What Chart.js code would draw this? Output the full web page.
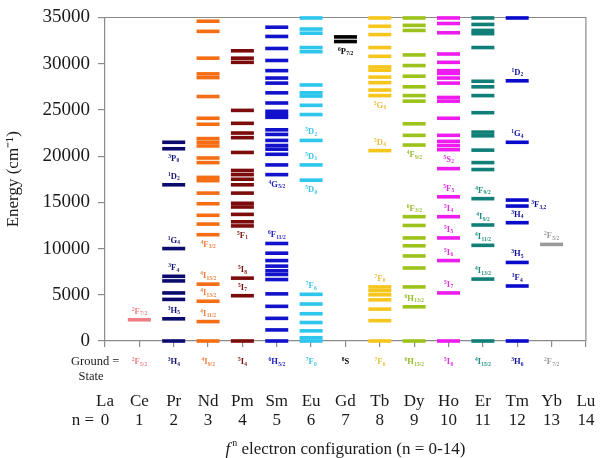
<!DOCTYPE html>
<html>
<head>
<meta charset="utf-8">
<script src="https://cdn.jsdelivr.net/npm/chart.js"></script>
<style>
  body { margin: 0; background: #fff; }
  #wrap { width: 601px; height: 458px; }
</style>
</head>
<body>
<div id="wrap"><canvas id="dieke" width="601" height="458"></canvas></div>
<script>
// element symbols, n = 0..14
const elements = ['La', 'Ce', 'Pr', 'Nd', 'Pm', 'Sm', 'Eu', 'Gd', 'Tb', 'Dy', 'Ho', 'Er', 'Tm', 'Yb', 'Lu'];
const yTicks = [0, 5000, 10000, 15000, 20000, 25000, 30000, 35000];

// energy levels (cm-1)
const ceLevels = [2300];
const prLevels = [0, 2400, 4500, 5200, 6500, 7000, 10000, 16900, 20800, 21500];
const ndLevels = [0, 2100, 4300, 6150, 11500, 12650, 13600, 14850, 16000, 17350, 17700, 19300, 19800,
  21100, 21500, 21900, 23450, 24100, 26450, 28500, 28900, 30600, 33500, 34600];
const pmLevels = [0, 4900, 6800, 12450, 12900, 13700, 14500, 14900, 16000, 16900, 17500, 18000, 18450,
  20400, 22000, 22500, 23550, 24950, 30150, 30600, 31400];
const smLevels = [0, 1200, 2450, 3750, 5100, 6650, 7200, 7600, 8100, 8700, 9500, 10550, 18000, 19050,
  20200, 20750, 21150, 21700, 22350, 22850, 24200, 24500, 24850, 25750, 26850, 27900, 28450, 29250,
  30350, 31650, 32950, 33950];
const euLevels = [0, 350, 1100, 2000, 2950, 4000, 5050, 17400, 19050, 21700, 24500, 25500, 26500, 26850,
  27700, 31300, 31750, 33300, 33750, 34950];
const gdLevels = [32400, 32900];
const tbLevels = [0, 2200, 3450, 4450, 5000, 5450, 5850, 20600, 26550, 27150, 27950, 28550, 29300, 29650,
  30800, 31750, 33150, 34050, 34950];
const dyLevels = [0, 3700, 5850, 7900, 9200, 10300, 11150, 12500, 13450, 21200, 22250, 23500, 25950,
  26550, 27500, 28650, 29800, 30950, 33600, 34150, 34950];
const hoLevels = [0, 5200, 8700, 11150, 13450, 15600, 18650, 20700, 21150, 21600, 22250, 24100, 25950,
  26350, 27900, 28450, 28950, 29250, 30150, 31050, 33350, 34350, 34950];
const erLevels = [0, 6700, 10350, 12550, 15400, 18550, 19300, 20650, 22200, 22600, 24700, 26550, 27500,
  28100, 31750, 33250, 33600, 34250, 34950];
const tmLevels = [0, 5950, 8500, 12800, 14600, 15250, 21500, 28150, 34950];
const ybLevels = [10450];

// ground state term of each ion: [multiplicity, L, J]
const groundStates = [null, ['2', 'F', '5/2'], ['3', 'H', '4'], ['4', 'I', '9/2'], ['5', 'I', '4'],
  ['6', 'H', '5/2'], ['7', 'F', '0'], ['8', 'S', ''], ['7', 'F', '6'], ['6', 'H', '15/2'], ['5', 'I', '8'],
  ['4', 'I', '15/2'], ['3', 'H', '6'], ['2', 'F', '7/2'], null];

// term labels: [n, level, multiplicity, L, J, side]  (a = above, b = below, r = right)
const termLabels = [
  [1, 2300, '2', 'F', '7/2', 'a'],
  [2, 20800, '3', 'P', '0', 'b'], [2, 16900, '1', 'D', '2', 'a'], [2, 10000, '1', 'G', '4', 'a'],
  [2, 7000, '3', 'F', '4', 'a'], [2, 2400, '3', 'H', '5', 'a'],
  [3, 11500, '4', 'F', '3/2', 'b'], [3, 6150, '4', 'I', '15/2', 'a'], [3, 4300, '4', 'I', '13/2', 'a'],
  [3, 2100, '4', 'I', '11/2', 'a'],
  [4, 12450, '5', 'F', '1', 'b'], [4, 6800, '5', 'I', '8', 'a'], [4, 4900, '5', 'I', '7', 'a'],
  [5, 18000, '4', 'G', '5/2', 'b'], [5, 10550, '6', 'F', '11/2', 'a'],
  [6, 21700, '5', 'D', '2', 'a'], [6, 19050, '5', 'D', '1', 'a'], [6, 17400, '5', 'D', '0', 'b'],
  [6, 5050, '7', 'F', '6', 'a'],
  [7, 32400, '6', 'P', '7/2', 'b'],
  [8, 26550, '5', 'G', '6', 'b'], [8, 20600, '5', 'D', '4', 'a'], [8, 5850, '7', 'F', '0', 'a'],
  [9, 21200, '4', 'F', '9/2', 'b'], [9, 13450, '6', 'F', '3/2', 'a'], [9, 3700, '6', 'H', '13/2', 'a'],
  [10, 20700, '5', 'S', '2', 'b'], [10, 15600, '5', 'F', '5', 'a'], [10, 13450, '5', 'I', '4', 'a'],
  [10, 11150, '5', 'I', '5', 'a'], [10, 8700, '5', 'I', '6', 'a'], [10, 5200, '5', 'I', '7', 'a'],
  [11, 15400, '4', 'F', '9/2', 'a'], [11, 12550, '4', 'I', '9/2', 'a'], [11, 10350, '4', 'I', '11/2', 'a'],
  [11, 6700, '4', 'I', '13/2', 'a'],
  [12, 28150, '1', 'D', '2', 'a'], [12, 21500, '1', 'G', '4', 'a'], [12, 14900, '3', 'F', '3,2', 'r'],
  [12, 12800, '3', 'H', '4', 'a'], [12, 8500, '3', 'H', '5', 'a'], [12, 5950, '3', 'F', '4', 'a'],
  [13, 10450, '2', 'F', '5/2', 'a']
];

const ionColors = {
  1: '#ee7d86', 2: '#0b0b6e', 3: '#f56d14', 4: '#7c0b0b', 5: '#1212cc', 6: '#2ec6ec', 7: '#000000',
  8: '#f7c61c', 9: '#9cc21c', 10: '#ee1cee', 11: '#0f7f78', 12: '#0a0acd', 13: '#9a9a9a'
};
const labelColors = {
  1: '#ee7d86', 2: '#16167a', 3: '#ee8040', 4: '#7c1010', 5: '#1a1ac0', 6: '#3cc4e8', 7: '#000000',
  8: '#e8c040', 9: '#96bc2c', 10: '#e030e0', 11: '#1f8c7c', 12: '#10109a', 13: '#9a9a9a'
};

const levelSets = [[1, ceLevels], [2, prLevels], [3, ndLevels], [4, pmLevels], [5, smLevels], [6, euLevels],
  [7, gdLevels], [8, tbLevels], [9, dyLevels], [10, hoLevels], [11, erLevels], [12, tmLevels], [13, ybLevels]];

const serif = "'Liberation Serif', 'Times New Roman', serif";
const axisGray = '#8a8a8a';

function drawTerm(ctx, x, y, t, color, align) {
  const [mult, letter, j] = t;
  const big = `bold 8.5px ${serif}`;
  const small = `bold 5.5px ${serif}`;
  ctx.font = small;
  const w1 = ctx.measureText(mult).width;
  const w3 = ctx.measureText(j).width;
  ctx.font = big;
  const w2 = ctx.measureText(letter).width;
  const x0 = align === 'left' ? x : x - (w1 + w2 + w3) / 2;
  ctx.fillStyle = color;
  ctx.textAlign = 'left';
  ctx.textBaseline = 'alphabetic';
  ctx.font = small;
  ctx.fillText(mult, x0, y);
  ctx.font = big;
  ctx.fillText(letter, x0 + w1, y + 3);
  ctx.font = small;
  ctx.fillText(j, x0 + w1 + w2 + 0.3, y + 4.5);
}

const annotations = {
  id: 'annotations',
  beforeDatasetsDraw(chart) {
    const { ctx, chartArea } = chart;
    ctx.save();
    ctx.strokeStyle = axisGray;
    ctx.lineWidth = 1.2;
    ctx.beginPath();
    ctx.moveTo(chartArea.left, chartArea.top);
    ctx.lineTo(chartArea.right, chartArea.top);
    ctx.lineTo(chartArea.right, chartArea.bottom);
    ctx.stroke();
    ctx.restore();
  },
  afterDraw(chart) {
    const { ctx } = chart;
    const xs = chart.scales.x, ys = chart.scales.y;
    ctx.save();

    termLabels.forEach(([n, e, m, l, j, side]) => {
      const px = xs.getPixelForValue(n);
      const py = ys.getPixelForValue(e);
      if (side === 'r') {
        drawTerm(ctx, px + 14, py + 1, [m, l, j], labelColors[n], 'left');
      } else {
        drawTerm(ctx, px, side === 'a' ? py - 9 : py + 9, [m, l, j], labelColors[n]);
      }
    });

    // ground state row
    groundStates.forEach((g, n) => {
      if (g) drawTerm(ctx, xs.getPixelForValue(n), 361, g, labelColors[n]);
    });
    ctx.fillStyle = '#1a1a1a';
    ctx.font = `12.5px ${serif}`;
    ctx.textBaseline = 'middle';
    ctx.textAlign = 'left';
    ctx.fillText('Ground =', 71, 362);
    ctx.textAlign = 'center';
    ctx.fillText('State', 91, 377);

    // element names and n
    ctx.font = `17px ${serif}`;
    elements.forEach((el, n) => {
      const px = xs.getPixelForValue(n);
      ctx.fillText(el, px, 402);
      ctx.fillText(String(n), px, 421);
    });
    ctx.textAlign = 'right';
    ctx.fillText('n =', 94, 421);

    // axis title
    const rest = ' electron configuration (n = 0-14)';
    ctx.font = `17px ${serif}`;
    const wRest = ctx.measureText(rest).width;
    ctx.font = `italic 17px ${serif}`;
    const wF = ctx.measureText('f').width;
    ctx.font = `10px ${serif}`;
    const wN = ctx.measureText('n').width;
    const total = wF + 2 + wN + wRest;
    let x0 = (chart.chartArea.left + chart.chartArea.right) / 2 - total / 2;
    ctx.textAlign = 'left';
    ctx.textBaseline = 'alphabetic';
    ctx.font = `italic 17px ${serif}`;
    ctx.fillText('f', x0, 454);
    ctx.font = `10px ${serif}`;
    ctx.fillText('n', x0 + wF + 2, 446);
    ctx.font = `17px ${serif}`;
    ctx.fillText(rest, x0 + wF + 2 + wN, 454);
    ctx.restore();
  }
};

const datasets = levelSets.map(([n, levels]) => ({
  label: elements[n],
  data: levels.map(e => ({ x: n, y: e })),
  showLine: false,
  pointStyle: 'line',
  pointRadius: 11.5,
  pointBorderWidth: 3.6,
  pointBorderColor: ionColors[n],
  pointBackgroundColor: ionColors[n],
  clip: false
}));

new Chart(document.getElementById('dieke'), {
  type: 'scatter',
  data: { datasets: datasets },
  options: {
    responsive: false,
    animation: false,
    events: [],
    layout: { padding: { top: 10, right: 14, left: 0, bottom: 0 } },
    plugins: { legend: { display: false }, tooltip: { enabled: false } },
    scales: {
      x: {
        type: 'linear',
        min: 0,
        max: 14,
        afterFit: s => { s.height = 117; },
        ticks: { display: false, stepSize: 1 },
        grid: { drawOnChartArea: false, tickLength: 6, color: axisGray, lineWidth: 1.2 },
        border: { color: axisGray, width: 1.2 }
      },
      y: {
        min: 0,
        max: 35000,
        afterFit: s => { s.width = 105; },
        afterBuildTicks: s => { s.ticks = yTicks.map(v => ({ value: v })); },
        ticks: {
          padding: 8,
          color: '#1a1a1a',
          font: { family: serif, size: 19, lineHeight: 1 },
          callback: v => String(v)
        },
        grid: { drawOnChartArea: false, tickLength: 7, color: axisGray, lineWidth: 1.2 },
        border: { color: axisGray, width: 1.2 },
        title: {
          display: true,
          text: 'Energy (cm\u207B\u00B9)',
          color: '#1a1a1a',
          font: { family: serif, size: 17 },
          padding: { top: 3, bottom: 0 }
        }
      }
    }
  },
  plugins: [annotations]
});
</script>
</body>
</html>
